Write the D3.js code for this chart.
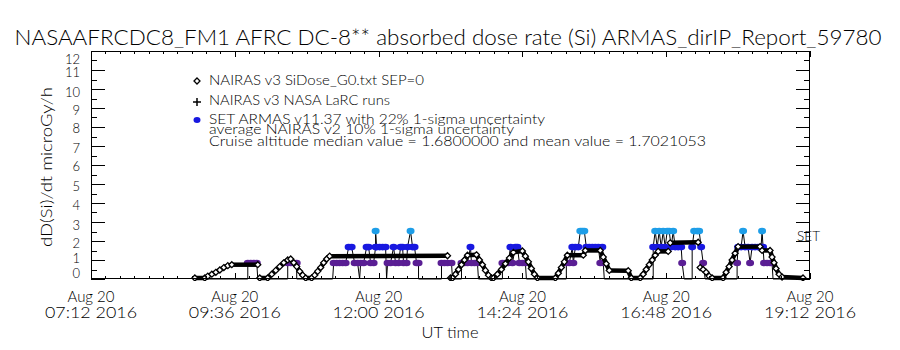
<!DOCTYPE html>
<html>
<head>
<meta charset="utf-8">
<script src="https://cdn.jsdelivr.net/npm/d3@7"></script>
<style>
body { margin: 0; background: #fff; }
svg { display: block; }
text { font-family: "Lato", "Liberation Sans", sans-serif; font-weight: 300; fill: #000; }
</style>
</head>
<body>
<div id="chart"></div>
<script>

//******************************************************************************
//**  Data
//******************************************************************************
var titleText = "NASAAFRCDC8_FM1 AFRC DC-8** absorbed dose rate (Si) ARMAS_dirIP_Report_59780";
var yTitle = "dD(Si)/dt microGy/h";
var xTitle = "UT time";
var yTicks = [0,1,2,3,4,5,6,7,8,9,10,11,12];
var xTickTimes = ["07:12","09:36","12:00","14:24","16:48","19:12"];
var legendLabels = [
    "NAIRAS v3 SiDose_G0.txt SEP=0",
    "NAIRAS v3 NASA LaRC runs",
    "SET ARMAS v11.37 with 22% 1-sigma uncertainty",
    "average NAIRAS v2 10% 1-sigma uncertainty",
    "Cruise altitude median value = 1.6800000 and mean value = 1.7021053"
];

//NAIRAS v3 model dose rate (diamonds)
var nairasTimes = [
    "08:56","09:06","09:09","09:13","09:17","09:21","09:25","09:29","09:33","09:59",
    "10:01","10:09","10:13","10:17","10:21","10:25","10:29","10:32","10:35","10:38",
    "10:41","10:44","10:47","10:53","10:56","10:59","11:02","11:05","11:08","11:11",
    "13:09","13:12","13:14","13:17","13:20","13:23","13:26","13:29","13:38","13:41",
    "13:44","13:47","13:50","13:53","13:55","13:59","14:03","14:07","14:11","14:15",
    "14:24","14:27","14:30","14:33","14:36","14:39","14:57","15:00","15:03","15:06",
    "15:09","15:25","15:27","15:42","15:45","15:48","15:51","16:10","16:13","16:22",
    "16:25","16:28","16:31","16:34","16:37","16:40","16:50","16:52","17:20","17:22",
    "17:25","17:28","17:31","17:34","17:45","17:48","17:51","17:54","17:57","18:00",
    "18:22","18:24","18:32","18:34","18:36","18:38","18:41","18:44","19:05"
];
var nairasValues = [
    0,0,0.1,0.2,0.3,0.42,0.55,0.65,0.7,0.7,
    0,0,0.2,0.4,0.6,0.8,0.95,1.0,0.8,0.6,
    0.35,0.15,0,0,0.15,0.35,0.55,0.8,1.0,1.15,
    1.17,0,0,0.2,0.45,0.7,0.95,1.2,1.22,0.95,
    0.7,0.4,0.15,0,0,0.2,0.45,0.75,1.05,1.35,
    1.42,1.15,0.85,0.5,0.2,0,0,0.25,0.55,0.85,
    1.2,1.2,1.45,1.45,1.1,0.75,0.4,0.38,0,0,
    0.2,0.45,0.7,0.95,1.2,1.4,1.4,1.85,1.88,0.55,
    0.45,0.3,0.1,0,0,0.3,0.6,0.95,1.3,1.65,
    1.65,1.45,1.45,1.1,0.8,0.5,0.2,0.05,0
];

//SET ARMAS measured dose rate (filled circles)
var armasTimes = [
    "09:01","09:49","09:49","09:52","09:55","09:58","09:59",
    "10:29","10:29","10:32","10:35","10:38","10:38",
    "11:14","11:15","11:18","11:21","11:24","11:27","11:30","11:33","11:36","11:39","11:41",
    "11:42","11:45","11:48","11:50","11:52","11:55","11:57","11:57","11:58","12:01",
    "12:04","12:07","12:08","12:09","12:12","12:15","12:17","12:20","12:22","12:24",
    "12:25","12:28","12:29","12:32","12:34","12:36","12:38","12:40","12:40",
    "13:03","13:03","13:06","13:09","13:13","13:14",
    "13:23","13:23","13:26","13:29","13:32","13:33","13:36","13:39","13:40",
    "14:04","14:04","14:07","14:10","14:12","14:14","14:17","14:19","14:21","14:24","14:27","14:28",
    "15:08","15:08","15:11","15:14","15:15","15:17","15:20","15:22","15:24","15:26",
    "15:28","15:31","15:34","15:37","15:40","15:42","15:44","15:45","15:46",
    "16:35","16:35","16:37","16:39","16:41","16:43","16:45","16:47","16:49","16:51",
    "16:53","16:55","16:57","17:00","17:03","17:04","17:06",
    "17:14","17:14","17:16","17:19","17:21","17:23","17:25","17:27",
    "17:59","17:59","18:00","18:03","18:05","18:07","18:10","18:12","18:14","18:17",
    "18:20","18:23","18:24","18:25","18:26","18:29","18:32","18:34","18:35","19:02"
];
var armasValues = [
    0,0,0.84,0.84,0.84,0.84,0,
    0,0.84,0.84,0.84,0.84,0,
    0,0.84,0.84,0.84,0.84,0.84,1.68,1.68,0.84,0.84,0,
    0.84,0.84,1.68,1.68,0.84,0.84,1.68,2.52,1.68,1.68,
    1.68,1.68,0,0.84,0.84,1.68,0.84,0.84,1.68,1.68,
    0.84,0.84,1.68,2.52,1.68,1.68,0.84,0.84,0,
    0,0.84,0.84,0.84,0.84,0,
    0,0.84,0.84,0.84,1.68,0.84,0.84,0.84,0,
    0,0.84,0.84,0.84,1.68,0.84,1.68,1.68,0.84,0.84,0.84,0,
    0,0.84,0.84,1.68,0.84,1.68,1.68,2.52,2.52,2.52,
    1.68,1.68,1.68,1.68,1.68,0.84,1.68,0.84,0,
    0,1.68,2.52,1.68,2.52,1.68,2.52,1.68,2.52,2.52,
    1.68,2.52,1.68,1.68,1.68,0.84,0,
    0,1.68,2.52,2.52,2.52,1.68,0.84,0,
    0,0.84,1.68,1.68,2.52,1.68,1.68,0.84,1.68,1.68,
    1.68,1.68,2.52,1.68,0.84,0.84,0.84,0.84,0,0
];

//**************************************************************************
//** Chart
//**************************************************************************
var width = 900, height = 350;
var margin = {top: 51, right: 90, bottom: 71, left: 91};

var svg = d3.select("#chart").append("svg")
    .attr("width", width)
    .attr("height", height);

var parseTime = d3.timeParse("%Y-%m-%d %H:%M");
var t = function(s){ return parseTime("2016-08-20 " + s); };

var x = d3.scaleTime()
    .domain([t("07:12"), t("19:12")])
    .range([margin.left, width - margin.right]);
var y = d3.scaleLinear()
    .domain([0, 12])
    .range([height - margin.bottom, margin.top]);

var levelColor = d3.scaleThreshold()
    .domain([1.2, 2.1])
    .range(["#5a1e94", "#1818e0", "#1e9ee8"]);

//** title
svg.append("text")
    .attr("x", 448).attr("y", 45)
    .attr("text-anchor", "middle")
    .attr("textLength", 867).attr("lengthAdjust", "spacingAndGlyphs")
    .style("font-size", "21px")
    .text(titleText);

//** plot area
var plot = svg.append("g");
plot.append("defs").append("clipPath").attr("id", "clip")
    .append("rect")
    .attr("x", margin.left).attr("y", margin.top - 10)
    .attr("width", width - margin.left - margin.right)
    .attr("height", height - margin.top - margin.bottom + 12);

var dataArea = plot.append("g").attr("clip-path", "url(#clip)");

//** ARMAS connecting line
var armas = armasTimes.map(function(d, i){ return {t: t(d), v: armasValues[i]}; });
dataArea.append("path")
    .datum(armas)
    .attr("fill", "none")
    .attr("stroke", "#000")
    .attr("stroke-width", 1)
    .attr("d", d3.line().x(function(d){ return x(d.t); }).y(function(d){ return y(d.v); }));

//** ARMAS points
dataArea.selectAll(".armas")
    .data(armas.filter(function(d){ return d.v > 0; }))
    .enter().append("ellipse")
    .attr("cx", function(d){ return x(d.t); })
    .attr("cy", function(d){ return y(d.v); })
    .attr("rx", 4).attr("ry", 3.3)
    .attr("fill", function(d){ return levelColor(d.v); });

//** NAIRAS: thick line where the curve is continuous, diamonds on the points
var nairas = nairasTimes.map(function(d, i){ return {t: t(d), v: nairasValues[i]}; });
var segs = [];
for (var i = 1; i < nairas.length; i++){
    if (Math.abs(nairas[i].v - nairas[i-1].v) <= 0.4) segs.push([nairas[i-1], nairas[i]]);
}
dataArea.selectAll(".seg")
    .data(segs)
    .enter().append("line")
    .attr("x1", function(d){ return x(d[0].t); })
    .attr("y1", function(d){ return y(d[0].v) - 1; })
    .attr("x2", function(d){ return x(d[1].t); })
    .attr("y2", function(d){ return y(d[1].v) - 1; })
    .attr("stroke", "#000")
    .attr("stroke-width", 4.5);

var diamond = "M0,-3L3,0L0,3L-3,0Z";
dataArea.selectAll(".nairas")
    .data(nairas)
    .enter().append("path")
    .attr("d", diamond)
    .attr("transform", function(d){ return "translate(" + x(d.t) + "," + (y(d.v) - 1) + ")"; })
    .attr("fill", "#fff")
    .attr("stroke", "#000")
    .attr("stroke-width", 1.3);

//** frame and axes
var axisG = svg.append("g").attr("stroke", "#000").attr("fill", "none");

axisG.append("rect")
    .attr("x", margin.left + 0.5).attr("y", margin.top + 0.5)
    .attr("width", width - margin.left - margin.right - 1)
    .attr("height", height - margin.top - margin.bottom - 1);

var yMinor = yTicks.slice(0, -1).map(function(d){ return d + 0.5; });

[[margin.left, 1], [width - margin.right, -1]].forEach(function(side){
    axisG.selectAll(null).data(yTicks).enter().append("line")
        .attr("x1", side[0]).attr("x2", side[0] + side[1]*14)
        .attr("y1", function(d){ return Math.round(y(d)) + 0.5; })
        .attr("y2", function(d){ return Math.round(y(d)) + 0.5; });
    axisG.selectAll(null).data(yMinor).enter().append("line")
        .attr("x1", side[0]).attr("x2", side[0] + side[1]*6)
        .attr("y1", function(d){ return Math.round(y(d)) + 0.5; })
        .attr("y2", function(d){ return Math.round(y(d)) + 0.5; });
});

var start = t("07:12").getTime();
var xMinor = d3.range(0, 51).map(function(i){ return new Date(start + i*14.4*60000); });
var xMajor = xTickTimes.map(t);

[[height - margin.bottom, -1], [margin.top, 1]].forEach(function(side){
    axisG.selectAll(null).data(xMinor).enter().append("line")
        .attr("x1", function(d){ return Math.round(x(d)) + 0.5; })
        .attr("x2", function(d){ return Math.round(x(d)) + 0.5; })
        .attr("y1", side[0]).attr("y2", side[0] + side[1]*3);
    axisG.selectAll(null).data(xMajor).enter().append("line")
        .attr("x1", function(d){ return Math.round(x(d)) + 0.5; })
        .attr("x2", function(d){ return Math.round(x(d)) + 0.5; })
        .attr("y1", side[0]).attr("y2", side[0] + side[1]*6);
});

//** y tick labels (IDL pulls the end labels inside the axis range)
var yLabelShift = [-6, -2, 2, 3, 2, 2, 1, 2, 1, 2, 3, 2, 8];
svg.selectAll(".ylab")
    .data(yTicks)
    .enter().append("text")
    .attr("x", 80)
    .attr("y", function(d, i){ return y(d) + yLabelShift[i]; })
    .attr("text-anchor", "end")
    .attr("dominant-baseline", "central")
    .style("font-size", "13px")
    .text(function(d){ return d; });

//** x tick labels
var fmtDay = d3.timeFormat("%b %d");
var fmtTime = d3.timeFormat("%H:%M %Y");
var xl = svg.selectAll(".xlab").data(xMajor).enter();
xl.append("text")
    .attr("x", function(d){ return x(d); })
    .attr("y", 302)
    .attr("text-anchor", "middle")
    .attr("textLength", 47).attr("lengthAdjust", "spacingAndGlyphs")
    .style("font-size", "15px")
    .text(fmtDay);
xl.append("text")
    .attr("x", function(d){ return x(d); })
    .attr("y", 318)
    .attr("text-anchor", "middle")
    .attr("textLength", 92).attr("lengthAdjust", "spacingAndGlyphs")
    .style("font-size", "15px")
    .text(fmtTime);

//** axis titles
svg.append("text")
    .attr("x", 450).attr("y", 338)
    .attr("text-anchor", "middle")
    .attr("textLength", 57).attr("lengthAdjust", "spacingAndGlyphs")
    .style("font-size", "15px")
    .text(xTitle);

svg.append("text")
    .attr("transform", "translate(52,167) rotate(-90)")
    .attr("text-anchor", "middle")
    .attr("textLength", 160).attr("lengthAdjust", "spacingAndGlyphs")
    .style("font-size", "16px")
    .text(yTitle);

//** legend
var legendY = [85, 105, 124, 134, 146];
var legendW = [215, 181, 336, 305, 497];
svg.selectAll(".leg")
    .data(legendLabels)
    .enter().append("text")
    .attr("x", 209)
    .attr("y", function(d, i){ return legendY[i]; })
    .attr("textLength", function(d, i){ return legendW[i]; })
    .attr("lengthAdjust", "spacingAndGlyphs")
    .style("font-size", "13.5px")
    .text(function(d){ return d; });

svg.append("path")
    .attr("d", diamond)
    .attr("transform", "translate(197,81)")
    .attr("fill", "#fff").attr("stroke", "#000").attr("stroke-width", 1.3);
svg.append("path")
    .attr("d", "M197,98V106M193,102H201")
    .attr("stroke", "#000").attr("stroke-width", 1.5);
svg.append("ellipse")
    .attr("cx", 197).attr("cy", 120).attr("rx", 3.5).attr("ry", 3)
    .attr("fill", "#1818e0");

//** SET label
svg.append("text")
    .attr("x", 797).attr("y", 241)
    .attr("textLength", 23).attr("lengthAdjust", "spacingAndGlyphs")
    .style("font-size", "13.5px")
    .text("SET");

</script>
</body>
</html>
